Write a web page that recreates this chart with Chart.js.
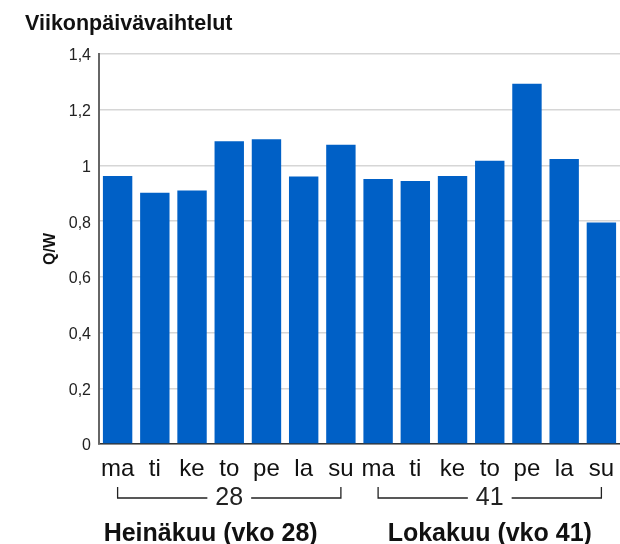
<!DOCTYPE html>
<html>
<head>
<meta charset="utf-8">
<script src="https://cdn.jsdelivr.net/npm/chart.js@4/dist/chart.umd.min.js"></script>
<style>
  html, body { margin: 0; padding: 0; background: #fff; }
  #wrap { width: 620px; height: 544px; position: relative; }
</style>
</head>
<body>
<div id="wrap"><canvas id="chart"></canvas></div>
<script>
// Viikonpäivävaihtelut - Q/W per weekday, two sample weeks

const days = ['ma', 'ti', 'ke', 'to', 'pe', 'la', 'su'];
const labels = days.concat(days);

// Q/W ratios
const week28 = [0.962, 0.902, 0.910, 1.087, 1.094, 0.960, 1.074];
const week41 = [0.951, 0.944, 0.962, 1.017, 1.293, 1.023, 0.795];
const values = week28.concat(week41);

const yTicks = [0, 0.2, 0.4, 0.6, 0.8, 1, 1.2, 1.4];

// week brackets under the axis and the month captions
const weeks = ['28', '41'];
const groupTitles = ['Heinäkuu (vko 28)', 'Lokakuu (vko 41)'];
const titleText = 'Viikonpäivävaihtelut';

const FONT = "'Liberation Sans', Arial, sans-serif";

const bracketPlugin = {
  id: 'brackets',
  afterDraw(chart) {
    const ctx = chart.ctx;
    const x = chart.scales.x;
    const bottom = chart.chartArea.bottom;
    ctx.save();

    // chart title
    ctx.fillStyle = '#111';
    ctx.font = 'bold 21.5px ' + FONT;
    ctx.textAlign = 'left';
    ctx.textBaseline = 'alphabetic';
    ctx.fillText(titleText, 25, 30);

    weeks.forEach((wk, g) => {
      const x0 = x.getPixelForValue(g * 7);
      const x1 = x.getPixelForValue(g * 7 + 6);
      const mid = (x0 + x1) / 2;
      const lineY = bottom + 54;

      ctx.font = '25px ' + FONT;
      const w = ctx.measureText(wk).width;
      ctx.strokeStyle = '#222';
      ctx.lineWidth = 1.3;
      ctx.beginPath();
      ctx.moveTo(x0, bottom + 43);
      ctx.lineTo(x0, lineY);
      ctx.lineTo(mid - w / 2 - 8, lineY);
      ctx.moveTo(mid + w / 2 + 8, lineY);
      ctx.lineTo(x1, lineY);
      ctx.lineTo(x1, bottom + 43);
      ctx.stroke();

      ctx.fillStyle = '#222';
      ctx.textAlign = 'center';
      ctx.textBaseline = 'alphabetic';
      ctx.fillText(wk, mid, bottom + 61);

      // month caption
      const c0 = x.getPixelForValue(g * 7);
      const c1 = x.getPixelForValue(g === 0 ? 5 : 13);
      ctx.font = 'bold 25px ' + FONT;
      ctx.fillStyle = '#111';
      ctx.fillText(groupTitles[g], (c0 + c1) / 2, bottom + 97);
    });
    ctx.restore();
  }
};

new Chart(document.getElementById('chart'), {
  type: 'bar',
  data: {
    labels: labels,
    datasets: [{
      data: values,
      backgroundColor: '#0060c6',
      borderWidth: 0,
      categoryPercentage: 1,
      barPercentage: 0.79
    }]
  },
  options: {
    responsive: true,
    maintainAspectRatio: false,
    animation: false,
    layout: { padding: { top: 54, left: 0, right: 0, bottom: 0 } },
    plugins: {
      legend: { display: false },
      tooltip: { enabled: false },
      title: { display: false }
    },
    scales: {
      x: {
        grid: { display: false, drawTicks: false },
        border: { display: true, color: '#333', width: 1.5 },
        ticks: {
          color: '#111',
          font: { family: FONT, size: 24 },
          padding: 11,
          maxRotation: 0,
          autoSkip: false
        },
        afterFit(scale) {
          scale.height = 100;
          scale.paddingLeft = 0;
          scale.paddingRight = 0;
        }
      },
      y: {
        min: 0,
        max: 1.4,
        afterBuildTicks(scale) {
          scale.ticks = yTicks.map(v => ({ value: v }));
        },
        grid: { color: '#d6d6d6', lineWidth: 1.5, drawTicks: false },
        border: { display: true, color: '#666', width: 2 },
        ticks: {
          color: '#222',
          font: { family: FONT, size: 16 },
          padding: 8,
          labelOffset: 2,
          callback: v => String(Math.round(v * 10) / 10).replace('.', ',')
        },
        title: {
          display: true,
          text: 'Q/W',
          color: '#111',
          font: { family: FONT, size: 16, weight: 'bold' },
          padding: { top: 41, bottom: 0 }
        },
        afterFit(scale) { scale.width = 99; }
      }
    }
  },
  plugins: [bracketPlugin]
});
</script>
</body>
</html>
